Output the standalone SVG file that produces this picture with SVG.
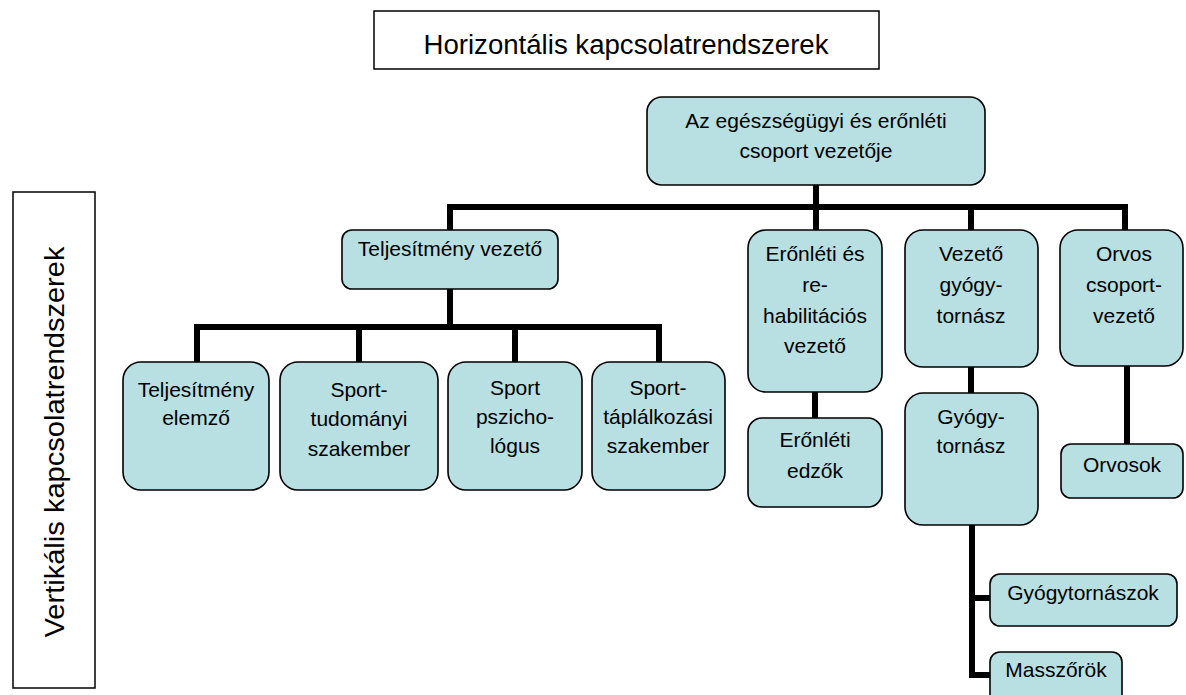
<svg xmlns="http://www.w3.org/2000/svg" width="1186" height="695" viewBox="0 0 1186 695">
<style>
.frame{fill:#fff;stroke:#000;stroke-width:1.5}
.node{fill:#b8dfe2;stroke:#000;stroke-width:1.6}
.t{font-family:"Liberation Sans",Arial,sans-serif;font-size:21px;fill:#000;text-anchor:middle}
.big{font-family:"Liberation Sans",Arial,sans-serif;font-size:27px;fill:#000;text-anchor:middle}
.conn{fill:none;stroke:#000;stroke-width:6;stroke-linejoin:miter}
</style>
<rect width="1186" height="695" fill="#fff"/>
<g id="title-horizontal">
<rect class="frame" x="374" y="11" width="505" height="58"/>
<text class="big" x="626" y="54" textLength="405" lengthAdjust="spacingAndGlyphs">Horizontális kapcsolatrendszerek</text>
</g>
<g id="title-vertical">
<rect class="frame" x="13" y="192" width="82" height="496"/>
<text class="big" transform="translate(64,442) rotate(-90)" x="0" y="0" textLength="391" lengthAdjust="spacingAndGlyphs">Vertikális kapcsolatrendszerek</text>
</g>
<g id="connectors">
<path class="conn" d="M816,185 V230"/>
<path class="conn" d="M450,230 V207 H1125 V230"/>
<path class="conn" d="M971,207 V230"/>
<path class="conn" d="M450,289 V327"/>
<path class="conn" d="M197,362 V327 H659 V362"/>
<path class="conn" d="M359,327 V362"/>
<path class="conn" d="M515,327 V362"/>
<path class="conn" d="M815,392 V418"/>
<path class="conn" d="M971,367 V393"/>
<path class="conn" d="M1127,366 V444"/>
<path class="conn" d="M972,525 V675 H990"/>
<path class="conn" d="M972,598 H990"/>
</g>
<g id="n-head">
<rect class="node" x="647" y="97" width="338" height="88" rx="15"/>
<text class="t" x="816" y="128">Az egészségügyi és erőnléti</text>
<text class="t" x="816" y="158">csoport vezetője</text>
</g>
<g id="n-teljesitmeny-vezeto">
<rect class="node" x="342" y="230" width="216" height="59" rx="10"/>
<text class="t" x="450" y="256">Teljesítmény vezető</text>
</g>
<g id="n-eronleti-vezeto">
<rect class="node" x="748" y="230" width="134" height="162" rx="18"/>
<text class="t" x="815" y="261">Erőnléti és</text>
<text class="t" x="815" y="292">re-</text>
<text class="t" x="815" y="323">habilitációs</text>
<text class="t" x="815" y="353">vezető</text>
</g>
<g id="n-vezeto-gyogytornasz">
<rect class="node" x="905" y="230" width="133" height="137" rx="18"/>
<text class="t" x="971" y="261">Vezető</text>
<text class="t" x="971" y="292">gyógy-</text>
<text class="t" x="971" y="323">tornász</text>
</g>
<g id="n-orvos-csoportvezeto">
<rect class="node" x="1060" y="230" width="123" height="136" rx="18"/>
<text class="t" x="1124" y="261">Orvos</text>
<text class="t" x="1124" y="292">csoport-</text>
<text class="t" x="1124" y="323">vezető</text>
</g>
<g id="n-teljesitmeny-elemzo">
<rect class="node" x="123" y="362" width="146" height="128" rx="18"/>
<text class="t" x="196" y="397">Teljesítmény</text>
<text class="t" x="196" y="425">elemző</text>
</g>
<g id="n-sporttudomanyi">
<rect class="node" x="280" y="362" width="158" height="128" rx="18"/>
<text class="t" x="359" y="397">Sport-</text>
<text class="t" x="359" y="426">tudományi</text>
<text class="t" x="359" y="456">szakember</text>
</g>
<g id="n-sportpszichologus">
<rect class="node" x="448" y="362" width="134" height="128" rx="18"/>
<text class="t" x="515" y="395">Sport</text>
<text class="t" x="515" y="424">pszicho-</text>
<text class="t" x="515" y="453">lógus</text>
</g>
<g id="n-sporttaplalkozasi">
<rect class="node" x="592" y="362" width="133" height="128" rx="18"/>
<text class="t" x="658" y="395">Sport-</text>
<text class="t" x="658" y="424">táplálkozási</text>
<text class="t" x="658" y="453">szakember</text>
</g>
<g id="n-eronleti-edzok">
<rect class="node" x="748" y="418" width="134" height="89" rx="14"/>
<text class="t" x="815" y="447">Erőnléti</text>
<text class="t" x="815" y="478">edzők</text>
</g>
<g id="n-gyogytornasz">
<rect class="node" x="905" y="393" width="133" height="132" rx="18"/>
<text class="t" x="971" y="424">Gyógy-</text>
<text class="t" x="971" y="453">tornász</text>
</g>
<g id="n-orvosok">
<rect class="node" x="1061" y="444" width="122" height="54" rx="10"/>
<text class="t" x="1122" y="472">Orvosok</text>
</g>
<g id="n-gyogytornaszok">
<rect class="node" x="990" y="574" width="187" height="52" rx="10"/>
<text class="t" x="1083" y="600">Gyógytornászok</text>
</g>
<g id="n-masszorok">
<rect class="node" x="990" y="652" width="132" height="52" rx="10"/>
<text class="t" x="1056" y="677">Masszőrök</text>
</g>
</svg>
